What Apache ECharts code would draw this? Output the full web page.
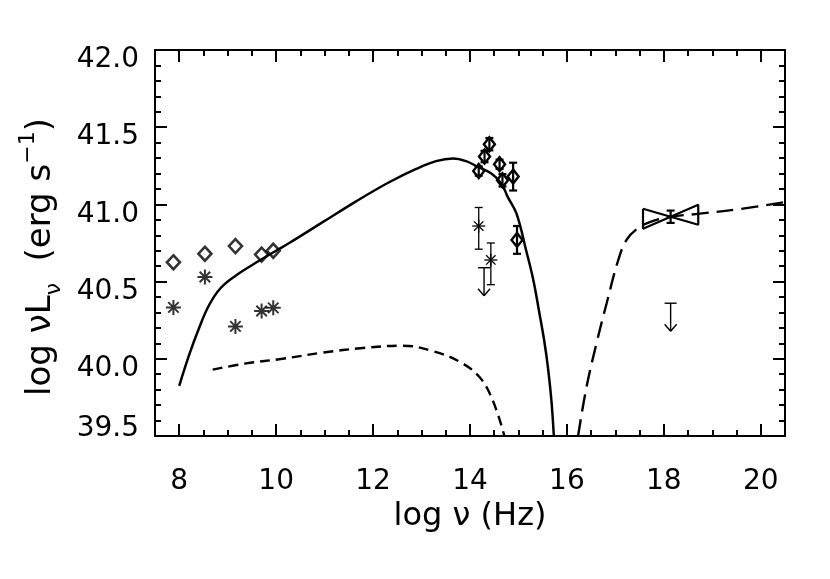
<!DOCTYPE html>
<html><head><meta charset="utf-8">
<script src="https://cdn.jsdelivr.net/npm/echarts@6/dist/echarts.min.js"></script>
<style>html,body{margin:0;padding:0;background:#fff}#c{width:830px;height:579px}</style>
</head><body><div id="c"></div>
<script>
// ---- data ----
const radioX = [7.88, 8.53, 9.16, 9.70, 9.94];
const radioDiamondY = [40.625, 40.68, 40.73, 40.675, 40.70];
const radioStarY = [40.333, 40.53, 40.21, 40.31, 40.33];

const optX = [14.18, 14.30, 14.40, 14.61, 14.67, 14.89, 14.97];
const optY = [41.216, 41.31, 41.39, 41.26, 41.156, 41.18, 40.77];
const optErr = [0.03, 0.037, 0.04, 0.03, 0.04, 0.09, 0.09];

const nirX = [14.18, 14.43];
const nirY = [40.86, 40.64];
const nirLo = [40.71, 40.48];
const nirHi = [40.98, 40.75];

const ulX = [14.29, 18.14];
const ulY = [40.59, 40.36];

const bowX = [17.57, 18.71, 18.71, 17.57, 17.57];
const bowY = [40.972, 40.868, 40.998, 40.842, 40.972];
const xrayPt = [18.14, 40.92, 40.88, 40.96];

const solidX = [8.00, 8.21, 8.41, 8.62, 8.86, 9.17, 9.65, 10.00, 10.27, 10.96, 11.65, 12.34, 12.89, 13.30, 13.65, 13.92, 14.15, 14.44, 14.65, 14.78, 14.96, 15.16, 15.30, 15.43, 15.53, 15.61, 15.68, 15.73];
const solidY = [39.825, 40.03, 40.20, 40.35, 40.46, 40.54, 40.635, 40.70, 40.75, 40.885, 41.02, 41.145, 41.23, 41.28, 41.297, 41.28, 41.245, 41.20, 41.134, 41.047, 40.94, 40.70, 40.52, 40.30, 40.12, 39.94, 39.73, 39.50];

const shortX = [8.69, 9.38, 10.13, 10.96, 11.79, 12.61, 13.23, 13.79, 14.20, 14.47, 14.71];
const shortY = [39.93, 39.97, 40.00, 40.04, 40.07, 40.085, 40.05, 39.98, 39.88, 39.73, 39.50];

const longX = [16.23, 16.40, 16.61, 16.82, 17.06, 17.23, 17.44, 17.71, 18.14, 18.74, 19.57, 20.5];
const longY = [39.50, 39.81, 40.10, 40.36, 40.64, 40.77, 40.84, 40.885, 40.92, 40.94, 40.97, 41.015];

const xMin = 7.5, xMax = 20.5;
const yMin = 39.5, yMax = 42.0, yStep = 0.5;

// ---- helpers ----
const F = 'DejaVu Sans';
const zip = (a, b) => a.map((v, i) => [v, b[i]]);
function seg(x1, y1, x2, y2, lw) {
  return { type: 'line', shape: { x1, y1, x2, y2 }, style: { stroke: '#000', lineWidth: lw, fill: null } };
}
function star(cx, cy, r, lw) {
  const d = r * 0.72;
  return [seg(cx, cy - r, cx, cy + r, lw), seg(cx - r, cy, cx + r, cy, lw),
          seg(cx - d, cy - d, cx + d, cy + d, lw), seg(cx - d, cy + d, cx + d, cy - d, lw)];
}

const tickCommon = {
  axisLine: { show: true, lineStyle: { color: '#000', width: 2 } },
  axisTick: { show: true, inside: true, length: 12, lineStyle: { color: '#000', width: 2 } },
  splitLine: { show: false },
};

const xBase = Object.assign({ type: 'value', min: xMin, max: xMax, splitNumber: 6,
  minorTick: { show: true, splitNumber: 4, length: 6, lineStyle: { color: '#000', width: 2 } } }, tickCommon);
const yBase = Object.assign({ type: 'value', min: yMin, max: yMax, interval: yStep,
  minorTick: { show: true, splitNumber: 5, length: 6, lineStyle: { color: '#000', width: 2 } } }, tickCommon);

const chart = echarts.init(document.getElementById('c'), null, { renderer: 'canvas' });
chart.setOption({
  animation: false,
  backgroundColor: '#fff',
  grid: { left: 155, right: 45, top: 50, bottom: 143 },
  xAxis: [
    Object.assign({}, xBase, {
      position: 'bottom',
      name: 'log ν (Hz)', nameLocation: 'middle', nameGap: 55,
      nameTextStyle: { fontFamily: F, fontSize: 32, color: '#000' },
      axisLabel: { margin: 32, fontFamily: F, fontSize: 28, color: '#000',
        formatter: v => (Math.abs(v % 2) < 1e-9 ? String(v) : '') }
    }),
    Object.assign({}, xBase, { position: 'top', axisLabel: { show: false } })
  ],
  yAxis: [
    Object.assign({}, yBase, {
      position: 'left',
      name: '{t|log νL}{sub|ν}{t|  (erg s}{sup|−1}{t|)}',
      nameLocation: 'middle', nameGap: 90, nameRotate: 90,
      nameTextStyle: {
        padding: [0, 28, 0, 0],
        rich: {
          t: { fontFamily: F, fontSize: 34, color: '#000', lineHeight: 48 },
          sub: { fontFamily: F, fontSize: 22, color: '#000', lineHeight: 22, verticalAlign: 'bottom' },
          sup: { fontFamily: F, fontSize: 22, color: '#000', lineHeight: 22, verticalAlign: 'top' }
        }
      },
      axisLabel: { margin: 16, fontFamily: F, fontSize: 28, color: '#000',
        formatter: v => (v < yMin + 1e-6 ? '{lo|' : '{hi|') + v.toFixed(1) + '}',
        rich: {
          hi: { fontFamily: F, fontSize: 28, color: '#000', padding: [20, 0, 0, 0] },
          lo: { fontFamily: F, fontSize: 28, color: '#000', padding: [0, 0, 14, 0] }
        }
      }
    }),
    Object.assign({}, yBase, { position: 'right', axisLabel: { show: false } })
  ],
  series: [
    { type: 'line', name: 'model', data: zip(solidX, solidY), showSymbol: false, symbol: 'none',
      smooth: 0.4, lineStyle: { color: '#000', width: 2.5 } },
    { type: 'line', name: 'host', data: zip(shortX, shortY), showSymbol: false, symbol: 'none',
      smooth: 0.4, lineStyle: { color: '#000', width: 2.4, type: [10, 6] } },
    { type: 'line', name: 'xray model', data: zip(longX, longY), showSymbol: false, symbol: 'none',
      smooth: 0.4, lineStyle: { color: '#000', width: 2.4, type: [17, 8] } },
    { type: 'scatter', name: 'radio core', data: zip(radioX, radioDiamondY), symbol: 'diamond',
      symbolSize: [13, 14], itemStyle: { color: 'rgba(0,0,0,0)', borderColor: '#000', borderWidth: 2.6 } },
    { type: 'scatter', name: 'radio total', data: zip(radioX, radioStarY),
      symbol: 'path://M10,0L10,20M0,10L20,10M3,3L17,17M3,17L17,3', symbolSize: 15,
      itemStyle: { color: 'rgba(0,0,0,0)', borderColor: '#000', borderWidth: 2 } },
    { type: 'custom', name: 'optical', data: optX.map((x, i) => [x, optY[i], optY[i] - optErr[i], optY[i] + optErr[i]]),
      renderItem: (p, api) => {
        const c = api.coord([api.value(0), api.value(1)]);
        const lo = api.coord([api.value(0), api.value(2)]);
        const hi = api.coord([api.value(0), api.value(3)]);
        const w = 5.5, h = 7, cap = 4;
        return { type: 'group', children: [
          seg(c[0], lo[1], c[0], hi[1], 2.2),
          seg(c[0] - cap, lo[1], c[0] + cap, lo[1], 2.2),
          seg(c[0] - cap, hi[1], c[0] + cap, hi[1], 2.2),
          { type: 'polygon', shape: { points: [[c[0], c[1] - h], [c[0] + w, c[1]], [c[0], c[1] + h], [c[0] - w, c[1]]] },
            style: { fill: null, stroke: '#000', lineWidth: 2.4 } }
        ] };
      } },
    { type: 'custom', name: 'nir', data: nirX.map((x, i) => [x, nirY[i], nirLo[i], nirHi[i]]),
      renderItem: (p, api) => {
        const c = api.coord([api.value(0), api.value(1)]);
        const lo = api.coord([api.value(0), api.value(2)]);
        const hi = api.coord([api.value(0), api.value(3)]);
        const cap = 4, lw = 1.3;
        return { type: 'group', children: [
          seg(c[0], lo[1], c[0], hi[1], lw),
          seg(c[0] - cap, lo[1], c[0] + cap, lo[1], lw),
          seg(c[0] - cap, hi[1], c[0] + cap, hi[1], lw)
        ].concat(star(c[0], c[1], 6.5, lw)) };
      } },
    { type: 'custom', name: 'upper limits', data: zip(ulX, ulY),
      renderItem: (p, api) => {
        const c = api.coord([api.value(0), api.value(1)]);
        const L = 28, lw = 1.4, tip = c[1] + L;
        return { type: 'group', children: [
          seg(c[0] - 6, c[1], c[0] + 6, c[1], lw),
          seg(c[0], c[1], c[0], tip, lw),
          seg(c[0] - 6, tip - 7, c[0], tip, lw),
          seg(c[0] + 6, tip - 7, c[0], tip, lw)
        ] };
      } },
    { type: 'line', name: 'xray bowtie', data: zip(bowX, bowY), showSymbol: false, symbol: 'none',
      smooth: false, lineStyle: { color: '#000', width: 2.2 } },
    { type: 'custom', name: 'xray point', data: [xrayPt],
      renderItem: (p, api) => {
        const x = api.value(0);
        const lo = api.coord([x, api.value(2)]);
        const hi = api.coord([x, api.value(3)]);
        const cap = 4;
        return { type: 'group', children: [
          seg(lo[0], lo[1], hi[0], hi[1], 2.2),
          seg(lo[0] - cap, lo[1], lo[0] + cap, lo[1], 2.2),
          seg(hi[0] - cap, hi[1], hi[0] + cap, hi[1], 2.2)
        ] };
      } }
  ]
});
</script></body></html>
